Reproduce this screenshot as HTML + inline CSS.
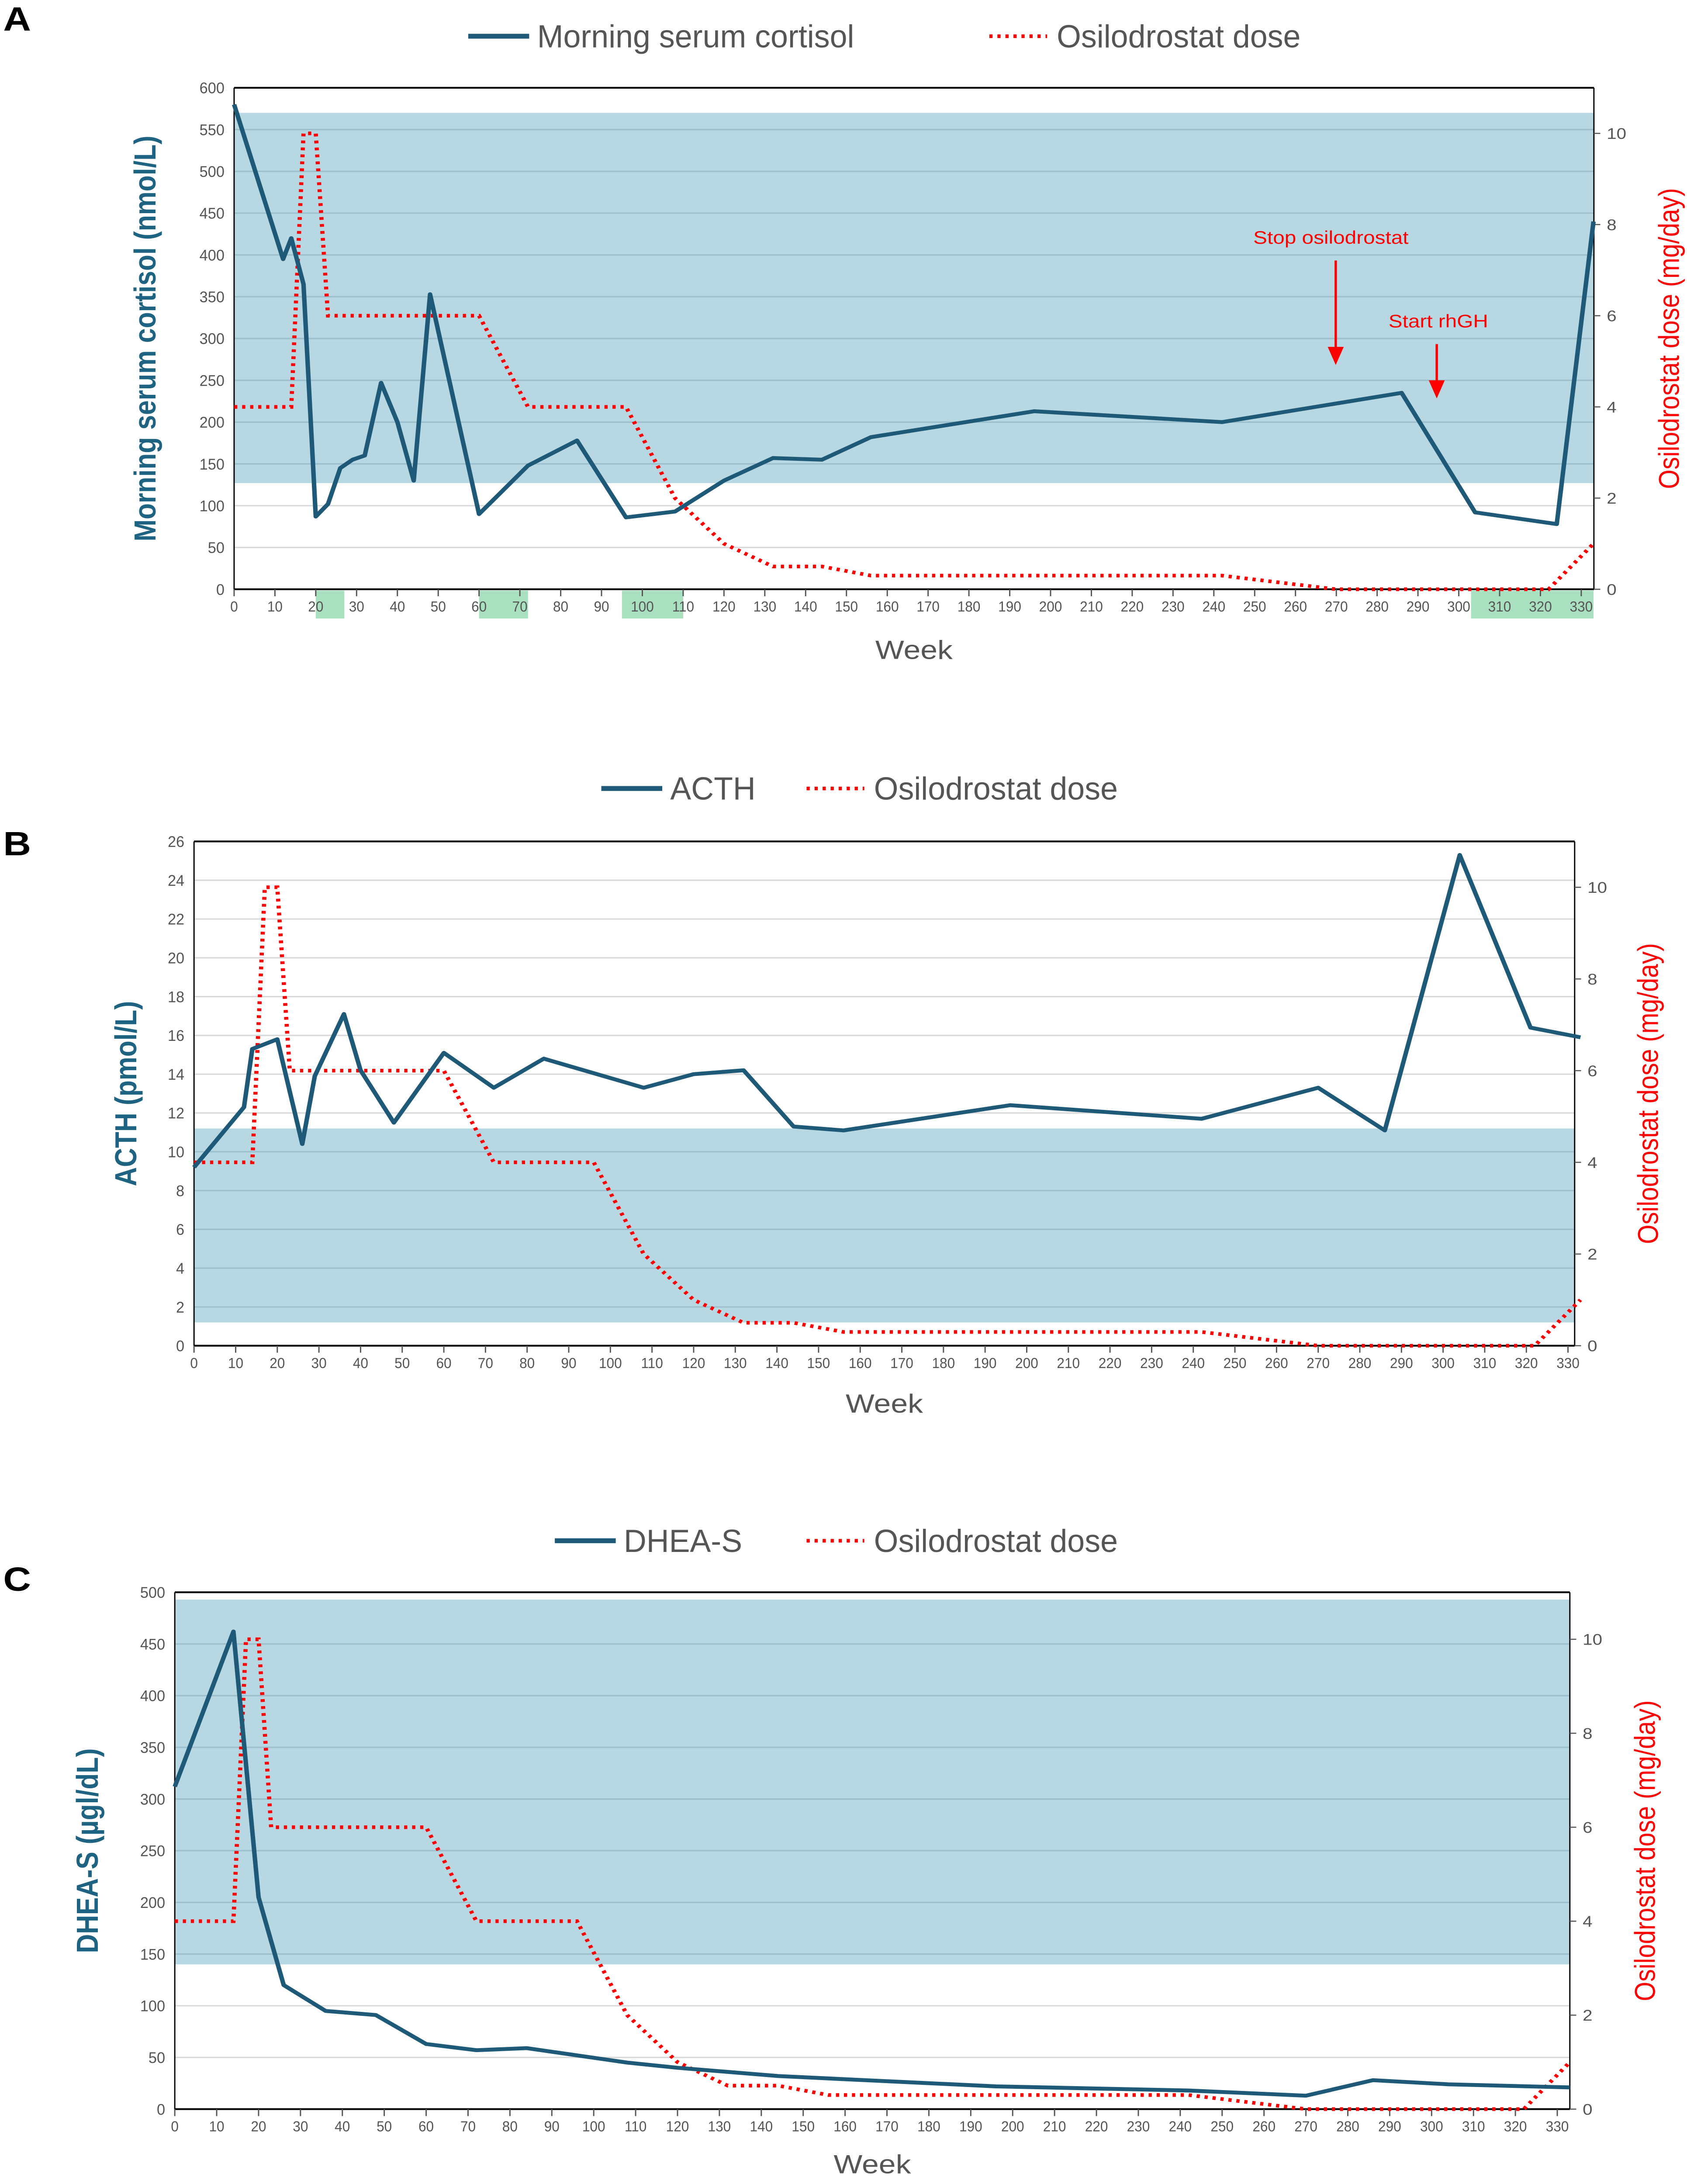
<!DOCTYPE html>
<html><head><meta charset="utf-8"><style>
html,body{margin:0;padding:0;background:#fff;width:100%;height:100%;overflow:hidden}
svg{display:block;position:absolute;left:0;top:0;width:100vw;height:100vh}
text{font-family:"Liberation Sans Narrow","Liberation Sans",sans-serif}
</style></head><body>
<svg id="fig" viewBox="0 0 1052.06 1567.75" preserveAspectRatio="none" xmlns="http://www.w3.org/2000/svg"></svg>
<script>
// ---- data ----
const doseWeeks = [0,14,17,20,23,60,72,96,108,120,132,144,156,242,270,322,333];
const doseVals  = [4,4,10,10,6,6,4,4,2,1,0.5,0.5,0.3,0.3,0,0,1];

const cortisolWeeks = [0,12,14,17,20,23,26,29,32,36,40,44,48,60,72,84,96,108,120,132,144,156,196,242,286,304,324,333];
const cortisolVals  = [580,395,420,365,87,102,145,155,160,247,200,130,353,90,148,178,86,93,130,157,155,182,213,200,235,92,78,440];

const acthWeeks = [0,12,14,20,26,29,36,40,48,60,72,84,108,120,132,144,156,196,242,270,286,304,321,333];
const acthVals  = [9.2,12.3,15.3,15.8,10.4,13.9,17.1,14.2,11.5,15.1,13.3,14.8,13.3,14,14.2,11.3,11.1,12.4,11.7,13.3,11.1,25.3,16.4,15.9];

const dheasWeeks = [0,14,20,26,36,48,60,72,84,108,120,144,196,242,270,286,304,333];
const dheasVals  = [312,462,205,120,95,91,63,57,59,45,40,32,22,18,13,28,24,21];

const xTicks = [0,10,20,30,40,50,60,70,80,90,100,110,120,130,140,150,160,170,180,190,200,210,220,230,240,250,260,270,280,290,300,310,320,330];
const doseTicks = [0,2,4,6,8,10];
const cortisolTicks = [0,50,100,150,200,250,300,350,400,450,500,550,600];
const acthTicks = [0,2,4,6,8,10,12,14,16,18,20,22,24,26];
const dheasTicks = [0,50,100,150,200,250,300,350,400,450,500];
const highlightRanges = [[20,27],[60,72],[95,110],[303,333]];

const NS="http://www.w3.org/2000/svg";
const svg=document.getElementById('fig');
function mk(tag,attrs,parent){const e=document.createElementNS(NS,tag);for(const k in attrs)e.setAttribute(k,attrs[k]);(parent||svg).appendChild(e);return e;}
function txt(s,attrs,parent){const e=mk('text',attrs,parent);e.textContent=s;return e;}

function chart(cfg){
  const g=mk('g',{});
  
  
  const {x0,x1,y0,y1,xmax,ymax,dmax}=cfg;
  const X=w=>x0+(x1-x0)*w/xmax;
  const Y=v=>y1-(y1-y0)*v/ymax;
  const YD=d=>y1-(y1-y0)*d/dmax;
  const band=mk('rect',{x:x0,y:Y(cfg.band[1]),width:x1-x0,height:Y(cfg.band[0])-Y(cfg.band[1]),fill:'#b7d7e3'},g);
  
  
  cfg.yTicks.forEach(v=>{
    if(v===0)return;
    const inb=v>=cfg.band[0]&&v<=cfg.band[1];
    const l=mk('line',{x1:x0,x2:x1,y1:Y(v),y2:Y(v),stroke:inb?'#9cbfce':'#d9d9d9','stroke-width':1},g);
    
    
  });
  if(cfg.highlights){cfg.highlights.forEach(r=>{
    const h=mk('rect',{x:X(r[0]),y:y1+1,width:X(r[1])-X(r[0]),height:20,fill:'#a8e0c0'},g);
    
    
  });}
  mk('line',{x1:x0,x2:x1,y1:y0,y2:y0,stroke:'#000','stroke-width':1.3},g);
  mk('line',{x1:x0,x2:x1,y1:y1,y2:y1,stroke:'#000','stroke-width':1.3},g);
  mk('line',{x1:x0,x2:x0,y1:y0,y2:y1,stroke:'#000','stroke-width':0.8},g);
  mk('line',{x1:x1,x2:x1,y1:y0,y2:y1,stroke:'#000','stroke-width':0.8},g);
  xTicks.forEach(w=>{
    mk('line',{x1:X(w),x2:X(w),y1:y1,y2:y1+5,stroke:'#555','stroke-width':0.8},g);
    const t=txt(String(w),{x:X(w),y:y1+16,'font-size':10.5,fill:'#555','text-anchor':'middle',transform:`translate(${X(w)},0) scale(0.82,1) translate(${-X(w)},0)`},g);
    
    
  });
  cfg.yTicks.forEach(v=>{
    const t=txt(String(v),{x:x0-6,y:Y(v)+4,'font-size':11,fill:'#555','text-anchor':'end',transform:`translate(${x0-6},0) scale(0.85,1) translate(${-(x0-6)},0)`},g);
    
    
  });
  doseTicks.forEach(d=>{
    mk('line',{x1:x1,x2:x1+4,y1:YD(d),y2:YD(d),stroke:'#555','stroke-width':0.8},g);
    const t=txt(String(d),{x:x1+8,y:YD(d)+4,'font-size':11,fill:'#555'},g);
    
    
  });
  const dp=mk('polyline',{points:doseWeeks.map((w,i)=>X(w)+','+YD(doseVals[i])).join(' '),fill:'none',stroke:'#ff0000','stroke-width':2.6,'stroke-dasharray':'2 3'},g);
  
  
  const mp=mk('polyline',{points:cfg.weeks.map((w,i)=>X(w)+','+Y(cfg.vals[i])).join(' '),fill:'none',stroke:'#1e5a78','stroke-width':2.8,'stroke-linejoin':'round'},g);
  
  
  const lt=txt(cfg.ytitle,{transform:`translate(${cfg.ytx},${(y0+y1)/2}) rotate(-90)`,'font-size':cfg.ytsize||19,'font-weight':'bold',fill:'#1e6382','text-anchor':'middle','font-family':'"DejaVu Sans",sans-serif'},g);
  
  
  const rt=txt('Osilodrostat dose (mg/day)',{transform:`translate(${cfg.rtx},${(y0+y1)/2}) rotate(-90)`,'font-size':18,fill:'#ff0000','text-anchor':'middle','font-family':'"DejaVu Sans",sans-serif'},g);
  
  
  const wt=txt('Week',{x:(x0+x1)/2,y:y1+cfg.weekDy,'font-size':19,fill:'#555','text-anchor':'middle'},g);
  
  
  const L=cfg.legend;
  const lg=mk('g',{},g);
  
  
  mk('line',{x1:L.x,x2:L.x+38,y1:L.y,y2:L.y,stroke:'#1e5a78','stroke-width':3.5},lg);
  txt(cfg.legendName,{x:L.x+43,y:L.y+8,'font-size':23,fill:'#555',transform:`translate(${L.x+43},0) scale(0.85,1) translate(${-(L.x+43)},0)`},lg);
  mk('line',{x1:L.x2,x2:L.x2+36,y1:L.y,y2:L.y,stroke:'#ff0000','stroke-width':2.6,'stroke-dasharray':'2 3'},lg);
  txt('Osilodrostat dose',{x:L.x2+42,y:L.y+8,'font-size':23,fill:'#555',transform:`translate(${L.x2+42},0) scale(0.85,1) translate(${-(L.x2+42)},0)`},lg);
  const pl=txt(cfg.panel,{x:2,y:cfg.panelY,'font-size':24,'font-weight':'bold','font-family':'"Liberation Serif",serif'},g);
  
  
  return {X,Y,g};
}

const A=chart({name:'panel-a-cortisol-chart',x0:146,x1:994,y0:63,y1:423,xmax:333.1,ymax:600,dmax:11,band:[127,570],weekDy:50,
  yTicks:cortisolTicks,weeks:cortisolWeeks,vals:cortisolVals,seriesName:'cortisol-line',highlights:highlightRanges,
  ytitle:'Morning serum cortisol  (nmol/L)',ytx:97,rtx:1047,legend:{x:292,x2:617,y:26},legendName:'Morning serum cortisol',panel:'A',panelY:22});
const B=chart({name:'panel-b-acth-chart',x0:121,x1:982,y0:604,y1:966,xmax:331.6,ymax:26,dmax:11,band:[1.2,11.2],weekDy:48,
  yTicks:acthTicks,weeks:acthWeeks,vals:acthVals,seriesName:'acth-line',
  ytitle:'ACTH (pmol/L)',ytx:85,rtx:1034,legend:{x:375,x2:503,y:566},legendName:'ACTH',panel:'B',panelY:614});
const C=chart({name:'panel-c-dheas-chart',x0:109,x1:979,y0:1143,y1:1514,xmax:333,ymax:500,dmax:11,band:[140,493],weekDy:46,
  yTicks:dheasTicks,weeks:dheasWeeks,vals:dheasVals,seriesName:'dheas-line',
  ytitle:'DHEA-S  (µgl/dL)',ytx:61,rtx:1032,legend:{x:346,x2:503,y:1106},legendName:'DHEA-S',panel:'C',panelY:1142});

const ann=mk('g',{});


txt('Stop osilodrostat',{x:830,y:175,'font-size':13,fill:'#ff0000','text-anchor':'middle'},ann);
mk('line',{x1:833,x2:833,y1:187,y2:250,stroke:'#ff0000','stroke-width':1.5},ann);
mk('polygon',{points:'828,249 838,249 833,262',fill:'#ff0000'},ann);
txt('Start rhGH',{x:897,y:235,'font-size':13,fill:'#ff0000','text-anchor':'middle'},ann);
mk('line',{x1:896,x2:896,y1:247,y2:275,stroke:'#ff0000','stroke-width':1.5},ann);
mk('polygon',{points:'891,273 901,273 896,286',fill:'#ff0000'},ann);
</script>
</body></html>
